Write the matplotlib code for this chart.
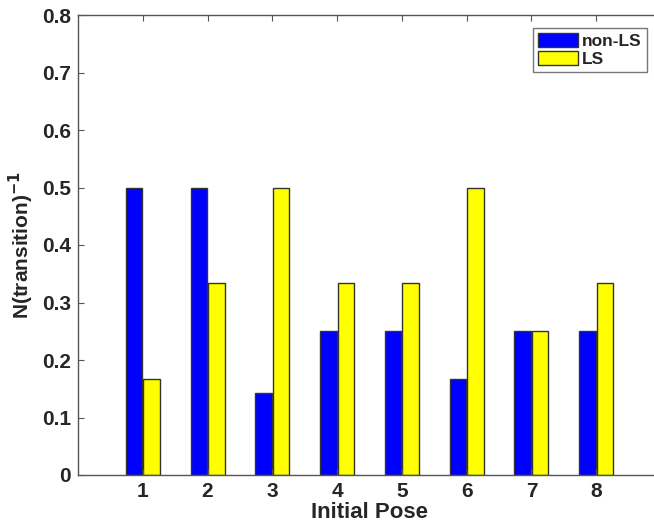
import matplotlib

matplotlib.use("Agg")
import matplotlib.pyplot as plt
import numpy as np

plt.rcParams["font.family"] = ["Liberation Sans", "DejaVu Sans"]
plt.rcParams["font.weight"] = "bold"
plt.rcParams["mathtext.default"] = "bf"

poses = [1, 2, 3, 4, 5, 6, 7, 8]
non_ls = [1 / 2, 1 / 2, 1 / 7, 1 / 4, 1 / 4, 1 / 6, 1 / 4, 1 / 4]
ls = [1 / 6, 1 / 3, 1 / 2, 1 / 3, 1 / 3, 1 / 2, 1 / 4, 1 / 3]

W, H = 654, 523
fig = plt.figure(figsize=(W / 100, H / 100), dpi=100)
# axes run slightly past the right border, as in the saved figure
left, right, top, bottom = 78, 661, 15, 475
ax = fig.add_axes([left / W, (H - bottom) / H, (right - left) / W, (bottom - top) / H])

x = np.array(poses, dtype=float)
offset = 0.135
width = 0.255
edge = "#333333"
ax.bar(x - offset, non_ls, width, color="#0000ff", edgecolor=edge, linewidth=1.0, label="non-LS")
ax.bar(x + offset, ls, width, color="#ffff00", edgecolor=edge, linewidth=1.0, label="LS")

ax.set_xlim(0, 9)
ax.set_ylim(0, 0.8)
ax.set_xticks(poses)
ax.set_yticks(np.arange(0, 0.81, 0.1))
ax.set_yticklabels(["0"] + [f"{v:.1f}" for v in np.arange(0.1, 0.81, 0.1)])

for side in ["left", "bottom", "top", "right"]:
    ax.spines[side].set_color("#555555")
    ax.spines[side].set_linewidth(1.0)
ax.tick_params(direction="in", length=4, color="#555555", labelcolor="#262626",
               labelsize=15, top=True, right=True, pad=5)
for lab in ax.get_xticklabels() + ax.get_yticklabels():
    lab.set_fontweight("bold")

ax.set_xlabel("Initial Pose", fontsize=16, fontweight="bold", color="#262626", labelpad=1)
ax.set_ylabel("N(transition)$^{-1}$", fontsize=15, fontweight="bold", color="#262626", labelpad=4)

# legend box placed in pixel coordinates of the figure
leg = fig.legend(loc="upper right", bbox_to_anchor=(647 / W, 1 - 28 / H),
                 fontsize=12.5, frameon=True, fancybox=False, handlelength=2.3, handleheight=0.85,
                 borderpad=0.3, labelspacing=0.12, handletextpad=0.25, borderaxespad=0)
leg.get_frame().set_edgecolor("#555555")
leg.get_frame().set_linewidth(1.0)
for t in leg.get_texts():
    t.set_fontweight("bold")
    t.set_color("#262626")

fig.savefig("out.png", dpi=100)
